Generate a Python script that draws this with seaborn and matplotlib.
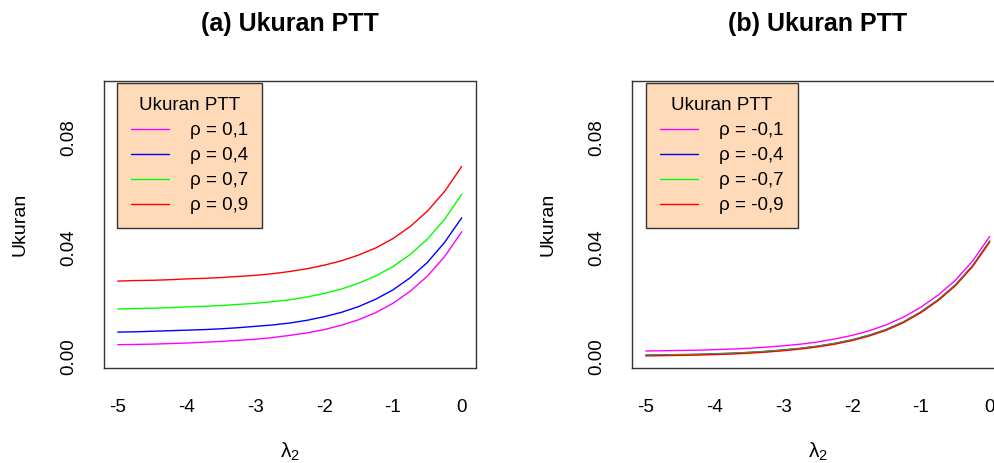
import numpy as np
import pandas as pd
import matplotlib
matplotlib.use("Agg")
import matplotlib.pyplot as plt
import seaborn as sns

# lambda_2 grid
lam = [-5.0, -4.75, -4.5, -4.25, -4.0, -3.75, -3.5, -3.25, -3.0, -2.75, -2.5,
       -2.25, -2.0, -1.75, -1.5, -1.25, -1.0, -0.75, -0.5, -0.25, 0.0]

# (a) positive correlation
rho_pos_labels = ["ρ = 0,1", "ρ = 0,4", "ρ = 0,7", "ρ = 0,9"]
size_pos_01 = [0.0045, 0.0046, 0.0047, 0.0049, 0.0051, 0.0054, 0.0057, 0.0061, 0.0065, 0.0071, 0.0079,
               0.0088, 0.0100, 0.0116, 0.0136, 0.0162, 0.0196, 0.0240, 0.0295, 0.0366, 0.0457]
size_pos_04 = [0.0091, 0.0092, 0.0094, 0.0096, 0.0098, 0.0100, 0.0103, 0.0107, 0.0112, 0.0117, 0.0124,
               0.0134, 0.0147, 0.0163, 0.0184, 0.0211, 0.0245, 0.0289, 0.0345, 0.0418, 0.0508]
size_pos_07 = [0.0175, 0.0177, 0.0178, 0.0180, 0.0183, 0.0185, 0.0188, 0.0192, 0.0196, 0.0202, 0.0209,
               0.0219, 0.0232, 0.0248, 0.0269, 0.0296, 0.0330, 0.0374, 0.0430, 0.0502, 0.0594]
size_pos_09 = [0.0277, 0.0279, 0.0280, 0.0282, 0.0285, 0.0287, 0.0290, 0.0294, 0.0298, 0.0304, 0.0312,
               0.0322, 0.0335, 0.0351, 0.0372, 0.0398, 0.0432, 0.0476, 0.0532, 0.0604, 0.0695]

# (b) negative correlation
rho_neg_labels = ["ρ = -0,1", "ρ = -0,4", "ρ = -0,7", "ρ = -0,9"]
size_neg_01 = [0.0022, 0.0023, 0.0024, 0.0025, 0.0027, 0.0029, 0.0032, 0.0036, 0.0041, 0.0047, 0.0055,
               0.0066, 0.0079, 0.0096, 0.0118, 0.0146, 0.0182, 0.0226, 0.0280, 0.0350, 0.0440]
size_neg_04 = [0.0007, 0.0008, 0.0009, 0.0010, 0.0012, 0.0014, 0.0017, 0.0021, 0.0026, 0.0032, 0.0040,
               0.0050, 0.0063, 0.0080, 0.0101, 0.0129, 0.0165, 0.0209, 0.0263, 0.0333, 0.0423]
size_neg_07 = [0.0006, 0.0007, 0.0008, 0.0009, 0.0011, 0.0013, 0.0016, 0.0020, 0.0025, 0.0031, 0.0039,
               0.0049, 0.0062, 0.0079, 0.0100, 0.0128, 0.0164, 0.0208, 0.0262, 0.0332, 0.0422]
size_neg_09 = [0.0004, 0.0005, 0.0006, 0.0007, 0.0009, 0.0011, 0.0014, 0.0018, 0.0023, 0.0029, 0.0037,
               0.0047, 0.0060, 0.0077, 0.0098, 0.0126, 0.0162, 0.0206, 0.0260, 0.0330, 0.0420]

line_colors = ["#FF00FF", "#0000FF", "#00FF00", "#FF0000"]
y_ticks = [0.00, 0.02, 0.04, 0.06, 0.08, 0.10]
y_ticklabels = ["0.00", "", "0.04", "", "0.08", ""]
x_ticks = [-5, -4, -3, -2, -1, 0]

sns.set_style("white")
plt.rcParams["font.family"] = ["Liberation Sans", "DejaVu Sans"]
plt.rcParams["mathtext.fontset"] = "custom"
plt.rcParams["mathtext.rm"] = "Liberation Sans"
plt.rcParams["text.color"] = "black"
plt.rcParams["axes.labelcolor"] = "black"
plt.rcParams["axes.titlecolor"] = "black"


def long_frame(labels, series):
    parts = []
    for lab, vals in zip(labels, series):
        parts.append(pd.DataFrame({"lambda2": lam, "ukuran": vals, "rho": lab}))
    return pd.concat(parts, ignore_index=True)


def draw_panel(ax, labels, series, title, legend_x):
    df = long_frame(labels, series)
    sns.lineplot(data=df, x="lambda2", y="ukuran", hue="rho", hue_order=labels,
                 palette=line_colors, linewidth=1.0, ax=ax, legend=True)
    ax.set_xlim(-5.2, 0.2)
    ax.set_ylim(-0.004, 0.1007)
    ax.set_xticks(x_ticks)
    ax.set_xticklabels([str(t) for t in x_ticks])
    ax.set_yticks(y_ticks)
    ax.set_yticklabels(y_ticklabels)
    for lbl in ax.get_yticklabels():
        lbl.set_rotation(90)
        lbl.set_va("center")
    ax.tick_params(axis="both", direction="out", length=8, width=0.9,
                   color="#333333", labelsize=13.5, labelcolor="black")
    ax.tick_params(axis="x", pad=14)
    ax.tick_params(axis="y", pad=11)
    for sp in ax.spines.values():
        sp.set_visible(True)
        sp.set_color("#333333")
        sp.set_linewidth(1.0)
    ax.set_xlabel(r"λ$_\mathrm{2}$", fontsize=15, labelpad=18)
    ax.set_ylabel("Ukuran", fontsize=14, labelpad=23)
    ax.set_title(title, fontsize=18, fontweight="bold", pad=36)
    handles, labs = ax.get_legend_handles_labels()
    leg = ax.legend(handles, labs, title="Ukuran PTT", loc="upper left",
                    bbox_to_anchor=(legend_x, 0.993), borderaxespad=0,
                    fontsize=13.5, title_fontsize=13.5, frameon=True,
                    fancybox=False, framealpha=1, facecolor="#FFDAB9",
                    edgecolor="#333333", handlelength=2.0, handletextpad=1.15,
                    labelspacing=0.42, borderpad=0.75)
    leg.get_frame().set_linewidth(1.0)
    for ln in leg.get_lines():
        ln.set_linewidth(1.0)


fig = plt.figure(figsize=(9.94, 4.63), dpi=100)
W, H = 994.0, 463.0
bottom = 1 - 368 / H
height = 287 / H
width = 371.5 / W
ax1 = fig.add_axes([104 / W, bottom, width, height])
ax2 = fig.add_axes([632 / W, bottom, width, height])

draw_panel(ax1, rho_pos_labels, [size_pos_01, size_pos_04, size_pos_07, size_pos_09],
           "(a) Ukuran PTT", 0.035)
draw_panel(ax2, rho_neg_labels, [size_neg_01, size_neg_04, size_neg_07, size_neg_09],
           "(b) Ukuran PTT", 0.038)

fig.savefig("out.png", dpi=100, facecolor="white")
